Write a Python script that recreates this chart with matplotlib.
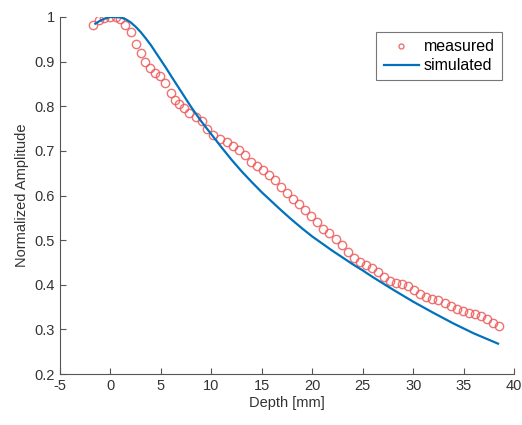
import matplotlib
matplotlib.use('Agg')
import matplotlib.pyplot as plt

plt.rcParams['font.family'] = ['Liberation Sans', 'DejaVu Sans']
plt.rcParams['axes.unicode_minus'] = False

# measured points
depth_meas = [-1.7, -1.1, -0.6, 0.0, 0.5, 0.9, 1.4, 2.0, 2.5, 3.0, 3.4, 3.9, 4.4, 4.9,
              5.4, 6.0, 6.4, 6.8, 7.3, 7.8, 8.5, 9.1, 9.6, 10.2, 10.9, 11.5, 12.1, 12.7,
              13.3, 13.9, 14.5, 15.1, 15.7, 16.3, 16.9, 17.5, 18.1, 18.7, 19.3, 19.9,
              20.5, 21.1, 21.7, 22.3, 22.9, 23.5, 24.1, 24.7, 25.3, 25.9, 26.5, 27.1,
              27.7, 28.3, 28.9, 29.5, 30.1, 30.7, 31.3, 31.9, 32.5, 33.1, 33.7, 34.3,
              34.9, 35.5, 36.1, 36.7, 37.3, 37.9, 38.5]
amp_meas = [0.983, 0.993, 0.998, 1.0, 1.0, 0.995, 0.982, 0.966, 0.94, 0.92, 0.90, 0.885,
            0.874, 0.867, 0.853, 0.83, 0.815, 0.804, 0.795, 0.784, 0.775, 0.768, 0.750,
            0.735, 0.726, 0.719, 0.712, 0.703, 0.691, 0.676, 0.667, 0.658, 0.647, 0.634,
            0.619, 0.606, 0.593, 0.580, 0.567, 0.553, 0.540, 0.526, 0.515, 0.502, 0.490,
            0.474, 0.460, 0.451, 0.444, 0.437, 0.428, 0.418, 0.409, 0.404, 0.401, 0.397,
            0.389, 0.380, 0.372, 0.368, 0.365, 0.360, 0.353, 0.346, 0.341, 0.337, 0.334,
            0.330, 0.324, 0.315, 0.308]

# simulated curve
depth_sim = [-1.5, -1.0, -0.5, 0.0, 0.5, 1.0, 1.5, 2.0, 2.5, 3.0, 3.5, 4.0, 4.5, 5.0,
             5.5, 6.0, 7.0, 8.0, 9.0, 10.0, 11.0, 12.0, 13.0, 14.0, 15.0, 16.0, 17.0,
             18.0, 19.0, 20.0, 22.0, 24.0, 25.0, 26.0, 28.0, 30.0, 32.0, 34.0, 36.0, 38.4]
amp_sim = [0.985, 0.992, 0.997, 1.0, 1.0, 0.999, 0.995, 0.988, 0.978, 0.966, 0.952,
           0.937, 0.92, 0.903, 0.886, 0.868, 0.833, 0.798, 0.766, 0.737, 0.708, 0.68,
           0.654, 0.63, 0.607, 0.586, 0.565, 0.545, 0.526, 0.508, 0.476, 0.446, 0.432,
           0.417, 0.389, 0.362, 0.337, 0.313, 0.291, 0.268]

fig = plt.figure(figsize=(5.22, 4.25), dpi=100)
ax = fig.add_axes([0.115, 0.12, 0.87, 0.84])

ax.plot(depth_meas, amp_meas, 'o', mfc='none', mec='#ee5a5a', mew=1.0, ms=6,
        alpha=0.85, label='measured')
ax.plot(depth_sim, amp_sim, '-', color='#0072bd', lw=1.6, label='simulated')

ax.set_xlim(-5, 40)
ax.set_ylim(0.2, 1.0)
ax.set_xticks(range(-5, 41, 5))
ax.set_yticks([0.2, 0.3, 0.4, 0.5, 0.6, 0.7, 0.8, 0.9, 1.0])
ax.set_yticklabels(['0.2', '0.3', '0.4', '0.5', '0.6', '0.7', '0.8', '0.9', '1'])
ax.set_xlabel('Depth [mm]', fontsize=10.5, color='#333333', labelpad=2)
ax.set_ylabel('Normalized Amplitude', fontsize=10.5, color='#333333', labelpad=4)

for s in ['top', 'right']:
    ax.spines[s].set_visible(False)
for s in ['left', 'bottom']:
    ax.spines[s].set_color('#555555')
    ax.spines[s].set_linewidth(0.8)
ax.tick_params(direction='in', length=4, width=0.8, colors='#555555',
               labelcolor='#333333', labelsize=10.5)

leg = ax.legend(loc='upper right', bbox_to_anchor=(0.99, 0.98), fancybox=False,
                edgecolor='#555555', fontsize=11.5, handlelength=2.2,
                handletextpad=0.3, borderpad=0.45, labelspacing=0.25, markerscale=0.6)
leg.get_frame().set_linewidth(0.8)

fig.savefig('out.png', dpi=100)
